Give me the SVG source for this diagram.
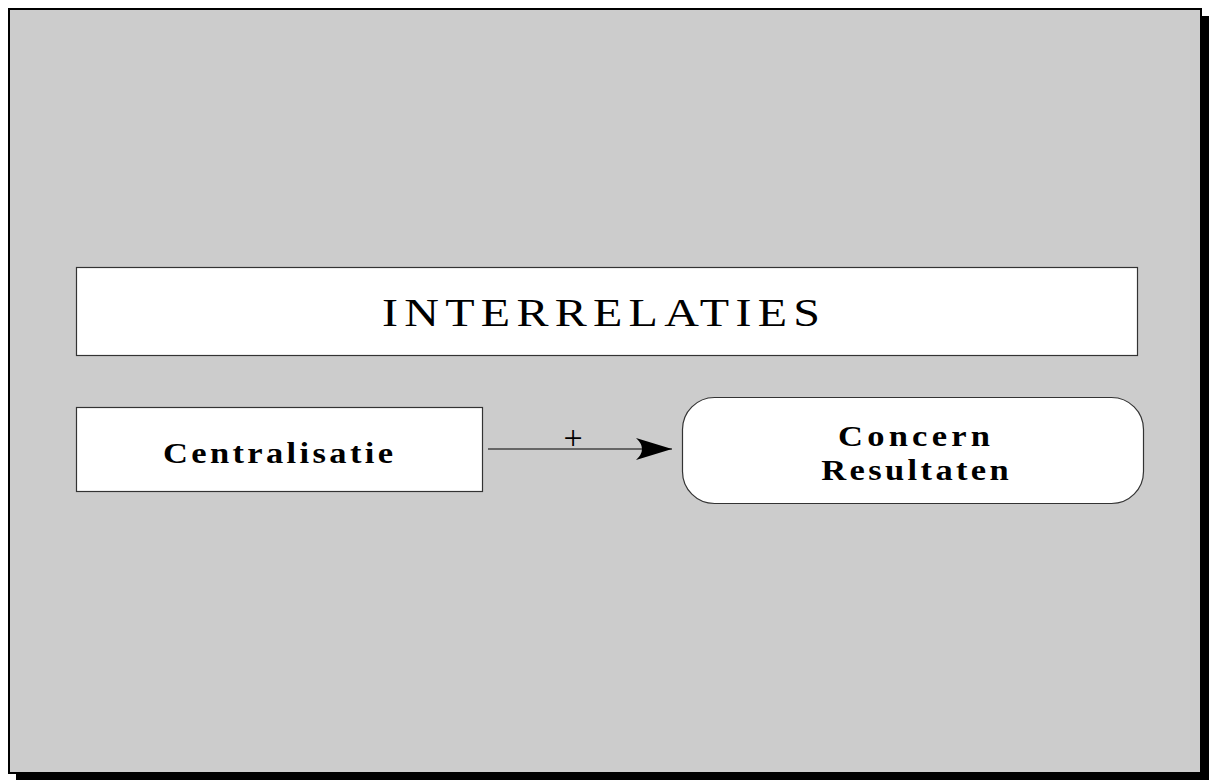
<svg xmlns="http://www.w3.org/2000/svg" width="1209" height="780" viewBox="0 0 1209 780">
<style>
.box{fill:#fff;stroke:#333;stroke-width:1.2}
.t{font-family:"Liberation Serif","Times New Roman",serif;fill:#000;text-anchor:middle}
.b{font-weight:bold;font-size:30px}
</style>
<defs>
<marker id="arr" markerUnits="userSpaceOnUse" markerWidth="40" markerHeight="24" refX="36" refY="12" orient="auto">
<path d="M0,1 L36,12 L0,23 Q12,12 0,1 Z" fill="#000"/>
</marker>
</defs>
<rect x="16" y="16" width="1193" height="764" fill="#000"/>
<rect x="9" y="9" width="1192" height="764" fill="#cccccc" stroke="#000" stroke-width="2"/>
<g id="title">
<rect class="box" x="76.5" y="267.5" width="1061" height="88"/>
<text class="t" transform="translate(601,326) scale(1.2,1)" font-size="40" textLength="365" lengthAdjust="spacing">INTERRELATIES</text>
</g>
<g id="centralisatie">
<rect class="box" x="76.5" y="407.5" width="406" height="84"/>
<text class="t b" transform="translate(278,463) scale(1.15,1)" textLength="200" lengthAdjust="spacing">Centralisatie</text>
</g>
<g id="concern">
<rect class="box" x="682.5" y="397.5" width="461" height="106" rx="32" ry="32"/>
<text class="t b" transform="translate(914,446) scale(1.15,1)" font-size="28" textLength="132" lengthAdjust="spacing">Concern</text>
<text class="t b" transform="translate(915,480) scale(1.15,1)" font-size="28" textLength="163" lengthAdjust="spacing">Resultaten</text>
</g>
<g id="connectors">
<line x1="488" y1="449" x2="672" y2="449" stroke="#000" stroke-width="1.2" marker-end="url(#arr)"/>
<text class="t" x="573" y="449" font-size="34">+</text>
</g>
</svg>
